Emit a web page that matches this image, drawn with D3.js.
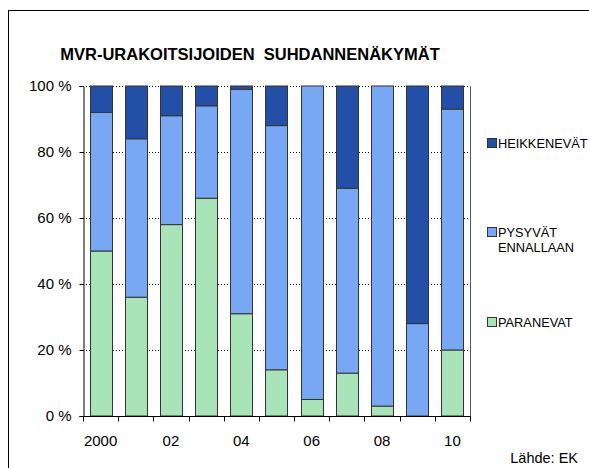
<!DOCTYPE html>
<html>
<head>
<meta charset="utf-8">
<script src="https://cdn.jsdelivr.net/npm/d3@7"></script>
<style>
  body { margin: 0; background: #fff; }
  text { font-family: "Liberation Sans", Arial, sans-serif; fill: #000; }
</style>
</head>
<body>
<div class="chart"></div>
<script>
// data
const years = ['2000', '2001', '2002', '2003', '2004', '2005', '2006', '2007', '2008', '2009', '2010'];
const yearLabels = ['2000', '', '02', '', '04', '', '06', '', '08', '', '10'];
const paranevat = [50, 36, 58, 66, 31, 14, 5, 13, 3, 0, 20];
const pysyvat = [42, 48, 33, 28, 68, 74, 95, 56, 97, 28, 73];
const heikkenevat = [8, 16, 9, 6, 1, 12, 0, 31, 0, 72, 7];
const yTicks = [0, 20, 40, 60, 80, 100];

const seriesNames = ['PARANEVAT', 'PYSYVÄT', 'HEIKKENEVÄT'];
const colors = ['#a8e4b8', '#78a8f4', '#2350a6'];

const rows = years.map((y, i) => ({
  year: y,
  PARANEVAT: paranevat[i],
  'PYSYVÄT': pysyvat[i],
  'HEIKKENEVÄT': heikkenevat[i]
}));

const svg = d3.select('.chart').append('svg')
  .attr('width', 589)
  .attr('height', 468);

// outer frame (runs off the page right and bottom)
svg.append('rect')
  .attr('x', 8.5).attr('y', 10.5)
  .attr('width', 600).attr('height', 480)
  .attr('fill', 'none')
  .attr('stroke', '#000')
  .attr('stroke-width', 1);

svg.append('text')
  .attr('x', 250).attr('y', 60)
  .attr('text-anchor', 'middle')
  .attr('font-size', '16.5px')
  .attr('font-weight', 'bold')
  .style('white-space', 'pre')
  .text('MVR-URAKOITSIJOIDEN  SUHDANNENÄKYMÄT');

const plotL = 83, plotR = 470, plotT = 86, plotB = 416;

const x = d3.scaleBand().domain(years).range([plotL, plotR]).paddingInner(0.37).paddingOuter(0.185);
const xTick = d3.scaleBand().domain(years).range([plotL, plotR]);
const y = d3.scaleLinear().domain([0, 100]).range([plotB, plotT]);

// dotted grid
svg.append('g')
  .selectAll('line')
  .data(yTicks.filter(d => d > 0))
  .join('line')
  .attr('x1', plotL).attr('x2', plotR)
  .attr('y1', d => Math.round(y(d)) + 0.5)
  .attr('y2', d => Math.round(y(d)) + 0.5)
  .attr('stroke', '#000')
  .attr('stroke-dasharray', '1,2');

// right border of plot
svg.append('line')
  .attr('x1', plotR + 0.5).attr('x2', plotR + 0.5)
  .attr('y1', plotT).attr('y2', plotB)
  .attr('stroke', '#555');

const stack = d3.stack().keys(seriesNames)(rows);

svg.append('g')
  .selectAll('g')
  .data(stack)
  .join('g')
  .attr('fill', (d, i) => colors[i])
  .selectAll('rect')
  .data(d => d.filter(p => p[1] - p[0] > 0))
  .join('rect')
  .attr('x', d => Math.round(x(d.data.year)) + 0.5)
  .attr('y', d => y(d[1]))
  .attr('width', Math.round(x.bandwidth()))
  .attr('height', d => y(d[0]) - y(d[1]))
  .attr('stroke', '#333')
  .attr('stroke-width', 1);

// y axis
const yAxis = svg.append('g')
  .attr('transform', `translate(${plotL + 0.5},0)`)
  .call(d3.axisLeft(y).tickValues(yTicks).tickSize(4).tickPadding(8).tickFormat(d => d + ' %'));
yAxis.selectAll('text').attr('font-size', '15px').style('font-family', '"Liberation Sans", Arial, sans-serif');
yAxis.select('.domain').attr('stroke', '#000');

// x axis: ticks between categories
const xAxisG = svg.append('g')
  .attr('transform', `translate(0,${plotB + 0.5})`);
xAxisG.append('line')
  .attr('x1', plotL).attr('x2', plotR + 1)
  .attr('stroke', '#000');
xAxisG.selectAll('line.tick')
  .data(years.concat(['end']))
  .join('line')
  .attr('class', 'tick')
  .attr('x1', (d, i) => Math.round(plotL + i * xTick.bandwidth()) + 0.5)
  .attr('x2', (d, i) => Math.round(plotL + i * xTick.bandwidth()) + 0.5)
  .attr('y1', 0).attr('y2', 5)
  .attr('stroke', '#000');
xAxisG.selectAll('text')
  .data(years)
  .join('text')
  .attr('x', d => xTick(d) + xTick.bandwidth() / 2)
  .attr('y', 29)
  .attr('text-anchor', 'middle')
  .attr('font-size', '15px')
  .text((d, i) => yearLabels[i]);

// legend
const legend = [
  { name: 'HEIKKENEVÄT', color: colors[2], lines: ['HEIKKENEVÄT'], y: 143 },
  { name: 'PYSYVÄT', color: colors[1], lines: ['PYSYVÄT', 'ENNALLAAN'], y: 232 },
  { name: 'PARANEVAT', color: colors[0], lines: ['PARANEVAT'], y: 322 }
];
const lg = svg.append('g').selectAll('g').data(legend).join('g');
lg.append('rect')
  .attr('x', 487.5).attr('y', d => d.y - 4.5)
  .attr('width', 9).attr('height', 9)
  .attr('fill', d => d.color)
  .attr('stroke', '#333');
lg.append('text')
  .attr('x', 498).attr('y', d => d.y + 5)
  .attr('font-size', '12.8px')
  .selectAll('tspan')
  .data(d => d.lines)
  .join('tspan')
  .attr('x', 498)
  .attr('dy', (d, i) => i === 0 ? 0 : 14.5)
  .text(d => d);

svg.append('text')
  .attr('x', 578).attr('y', 463)
  .attr('text-anchor', 'end')
  .attr('font-size', '14.5px')
  .text('Lähde: EK');
</script>
</body>
</html>
